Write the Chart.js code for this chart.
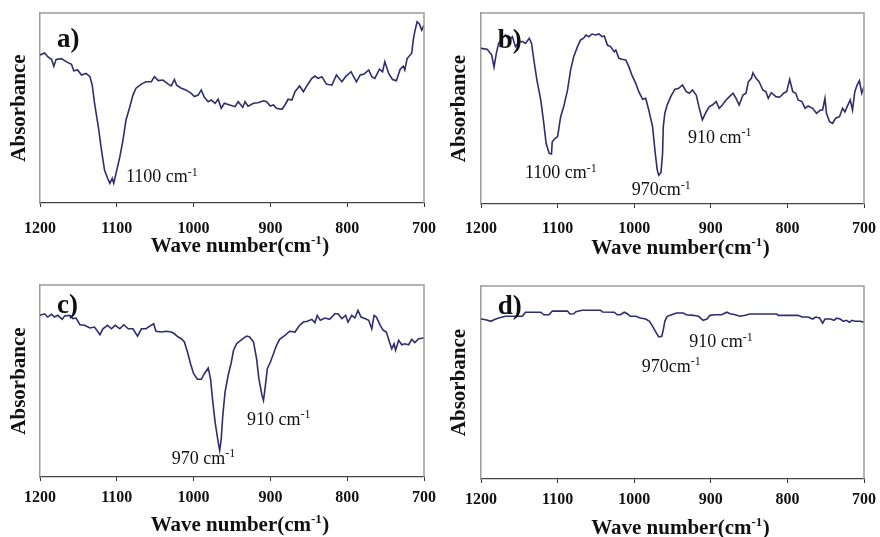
<!DOCTYPE html>
<html>
<head>
<meta charset="utf-8">
<script src="https://cdn.jsdelivr.net/npm/chart.js@4.4.1/dist/chart.umd.min.js"></script>
<style>
  html, body { margin: 0; padding: 0; background: #fff; overflow: hidden; }
  body { width: 880px; height: 537px; position: relative; }
  canvas { position: absolute; }
  #pa { left: 0; top: 0; }
  #pb { left: 440px; top: 0; }
  #pc { left: 0; top: 270px; }
  #pd { left: 440px; top: 270px; }
</style>
</head>
<body>
<canvas id="pa" width="440" height="290"></canvas>
<canvas id="pb" width="440" height="290"></canvas>
<canvas id="pc" width="440" height="290"></canvas>
<canvas id="pd" width="440" height="290"></canvas>
<script>
// x ticks (wave number, cm-1)
const xTicks = [1200, 1100, 1000, 900, 800, 700];

// a) spectrum
const wnA = [1200, 1194, 1190, 1185, 1182, 1179, 1172, 1166, 1159, 1156, 1151, 1146, 1140, 1135, 1132, 1129, 1124, 1120, 1116, 1112,
  1109, 1106, 1104, 1101, 1096, 1092, 1088, 1083, 1079, 1075, 1068, 1062, 1055, 1051, 1046, 1040, 1033, 1029, 1025, 1022,
  1016, 1010, 1003, 999, 994, 990, 986, 981, 977, 972, 968, 964, 960, 953, 946, 942, 936, 933, 929, 922,
  916, 909, 905, 900, 896, 892, 885, 881, 877, 872, 868, 862, 857, 852, 846, 842, 838, 833, 827, 820,
  814, 807, 802, 795, 788, 783, 778, 772, 768, 764, 758, 754, 751, 746, 741, 736, 731, 727, 725, 722,
  716, 714, 712, 709, 706, 703, 700];
const absA = [77.9, 79, 77, 75.6, 72, 75.6, 76, 74.4, 73, 69.6, 70, 67.4, 68.2, 66.5, 62, 52.5, 40, 28, 17.4, 13,
  10.4, 13, 10.4, 15.6, 24.4, 33, 43.7, 50.7, 56.8, 60.4, 62.6, 63.8, 63.8, 66.5, 64.4, 64.7, 62.6, 61.6, 65, 62,
  60.4, 59.5, 57.7, 56, 56.8, 59.5, 55.6, 53.3, 54.2, 52.5, 54.6, 49.8, 52.5, 51.6, 50.7, 53.3, 50.4, 53.3, 51, 52.5,
  52.8, 53.8, 53.3, 51, 51.6, 49.8, 49.3, 51.6, 54.6, 54.2, 58.6, 61.6, 58.6, 62, 65.6, 66.8, 65.6, 66.5, 62.6, 62,
  67.4, 63.8, 66.5, 69.1, 63.8, 67.4, 67.9, 70, 66.5, 65.6, 70.4, 69.1, 74.4, 68.2, 65, 64.4, 70.4, 72, 70, 76,
  78.8, 85.8, 90.2, 95.4, 94.2, 91, 93.7];

// b) spectrum
const wnB = [1200, 1192, 1186, 1183, 1180, 1177, 1172, 1168, 1163, 1159, 1155, 1150, 1146, 1142, 1137, 1134, 1131, 1127, 1122, 1118,
  1115, 1111, 1108, 1107, 1103, 1100, 1096, 1092, 1087, 1083, 1079, 1074, 1070, 1066, 1063, 1059, 1055, 1050, 1046, 1042,
  1039, 1035, 1031, 1026, 1024, 1020, 1016, 1011, 1007, 1003, 998, 994, 989, 985, 981, 976, 973, 970, 968, 965,
  963, 962, 960, 957, 952, 947, 942, 937, 932, 928, 924, 919, 915, 911, 906, 902, 898, 893, 889, 885,
  880, 875, 871, 867, 863, 858, 854, 851, 847, 845, 841, 837, 832, 828, 825, 821, 815, 810, 805, 801,
  797, 793, 789, 786, 781, 777, 773, 767, 762, 757, 754, 751, 749, 745, 741, 737, 732, 728, 725, 722,
  718, 715, 712, 709, 706, 703, 700];
const absB = [81.5, 81, 78, 71.6, 78.9, 84.1, 86.8, 88.5, 85.9, 87.6, 82.4, 85, 85, 84.1, 86.8, 84.1, 75.4, 64.9, 54.5, 42.2,
  31.8, 26.5, 26.2, 32.6, 34.4, 35.3, 45.7, 51, 59.7, 70.2, 77.1, 82.4, 85.9, 86.8, 88.5, 87.6, 89, 88.5, 89, 87.6,
  88, 83.2, 82.4, 79.7, 80.6, 76.3, 75.8, 75.4, 71.9, 67.5, 63.2, 58.8, 54.8, 55.3, 49.2, 40.5, 28.3, 18, 15, 16.5,
  26.5, 40.5, 47.5, 51.8, 56.5, 60, 60.6, 62.3, 58.8, 58, 59.7, 57, 50.1, 44, 48.3, 51, 51.8, 53.6, 50.1, 51.8,
  54.5, 56.5, 58, 55.3, 51.8, 57, 58, 64, 65.8, 68.7, 65.8, 64, 59.7, 58.8, 55.3, 58.3, 56.2, 55.9, 58, 58.8,
  65.3, 58.8, 58, 54.5, 53.6, 50.1, 51.3, 50.1, 47.5, 49.2, 49.2, 55.3, 47.5, 43.1, 42.2, 44.9, 45.7, 50.1, 48.3, 51,
  54.5, 49.2, 58.8, 62.3, 64.6, 58, 61.4];

// c) spectrum
const wnC = [1200, 1194, 1190, 1185, 1181, 1177, 1171, 1168, 1161, 1157, 1153, 1148, 1142, 1135, 1129, 1122, 1118, 1112, 1107, 1102,
  1096, 1091, 1085, 1079, 1073, 1068, 1062, 1057, 1052, 1049, 1042, 1036, 1029, 1025, 1020, 1016, 1012, 1008, 1004, 1000,
  995, 990, 986, 981, 978, 975, 972, 968, 966, 964, 962, 959, 955, 951, 948, 944, 937, 931, 927, 922,
  918, 915, 911, 909, 907, 904, 900, 896, 892, 888, 881, 875, 868, 862, 857, 852, 846, 842, 839, 835,
  829, 823, 816, 812, 807, 802, 799, 794, 790, 786, 782, 777, 772, 768, 765, 762, 757, 753, 749, 745,
  742, 739, 737, 733, 729, 725, 720, 716, 712, 707, 700];
const absC = [84.2, 85, 83.3, 84.7, 83.3, 84.2, 82.1, 83.9, 84.2, 82.5, 82.8, 79.3, 79, 77.6, 78.1, 74.1, 77.2, 79, 77.2, 79,
  77.2, 79.3, 77.2, 77.2, 73.4, 77.2, 77.2, 78.6, 79.8, 75.9, 75.5, 75.9, 75.5, 74.6, 72.9, 72, 70.3, 65.1, 59, 53.8,
  50.9, 50.9, 53.8, 56.8, 51.2, 39.1, 28.6, 18.2, 13.9, 19.9, 32.1, 44.3, 53, 59.5, 66, 69.4, 71.7, 73.4, 72.9, 70.3,
  61.6, 51.2, 42.6, 39.9, 46, 56.4, 59.9, 64.2, 68.6, 71.7, 73.8, 75.9, 75.5, 79, 80.7, 81.1, 82.1, 80.4, 84.2, 81.6,
  82.8, 82.1, 85, 85, 82.5, 84.2, 80.7, 84.2, 82.8, 86.8, 83.3, 82.5, 81.6, 77.2, 84.2, 83.3, 79, 76.4, 75.5, 70.3,
  66.8, 69.4, 66, 71.2, 68.9, 69.4, 68.9, 71.7, 70, 72, 72.4];

// d) spectrum
const wnD = [1200, 1194, 1187, 1183, 1177, 1168, 1146, 1142, 1122, 1118, 1111, 1107, 1087, 1084, 1079, 1076, 1068, 1044, 1041, 1026,
  1022, 1018, 1013, 1009, 1005, 998, 992, 985, 980, 976, 971, 968, 964, 962, 960, 957, 952, 945, 936, 932,
  923, 916, 910, 905, 901, 895, 886, 879, 875, 868, 862, 855, 849, 814, 812, 786, 781, 773, 767, 763,
  758, 754, 751, 744, 739, 736, 731, 727, 723, 719, 716, 712, 705, 700];
const absD = [82.9, 82.5, 81.7, 82.5, 83.4, 84.3, 84.3, 86.4, 86.4, 85.1, 85.1, 87, 87, 85.5, 85.6, 86.7, 87.4, 87.4, 86.5, 86.4,
  85.1, 85.1, 86.4, 85.6, 84.3, 84.3, 83.4, 82.9, 81.7, 79.1, 75.6, 73.6, 73.9, 77.4, 81.7, 84.3, 85, 86, 86, 85.1,
  84.8, 84.3, 82.2, 82.9, 84.8, 85.1, 85.1, 86.4, 85.6, 85.1, 84.3, 84.8, 85.5, 85.5, 84.8, 84.8, 83.9, 83.9, 82.9, 83.9,
  83.4, 80.8, 82.9, 82.9, 82.2, 83.3, 82.9, 81.7, 82.2, 81.2, 82.2, 81.7, 81.7, 81.3];

// peak labels
const notesA = [{ text: '1100 cm', sup: '-1', wn: 1088, v: 11 }];
const notesB = [
  { text: '1100 cm', sup: '-1', wn: 1142.6, v: 13.6 },
  { text: '970cm', sup: '-1', wn: 1003.3, v: 4.7 },
  { text: '910 cm', sup: '-1', wn: 929.8, v: 32.1 }
];
const notesC = [
  { text: '970 cm', sup: '-1', wn: 1028.5, v: 6.8 },
  { text: '910 cm', sup: '-1', wn: 930.5, v: 27.1 }
];
const notesD = [
  { text: '970cm', sup: '-1', wn: 990.2, v: 55.6 },
  { text: '910 cm', sup: '-1', wn: 928, v: 68.2 }
];

const LINE = '#2f2d6e';
const SERIF = '"Liberation Serif", "Times New Roman", serif';

// plot-area boxes inside each 440x290 canvas
const frames = {
  a: { left: 40, top: 13, right: 424, bottom: 203, tickGap: 26, titleGap: 42 },
  b: { left: 41, top: 13, right: 424, bottom: 204, tickGap: 25, titleGap: 43 },
  c: { left: 40, top: 15, right: 424, bottom: 207, tickGap: 21, titleGap: 47 },
  d: { left: 41, top: 16, right: 424, bottom: 209, tickGap: 21, titleGap: 48 }
};

const boxPlugin = {
  id: 'box',
  afterDraw(chart) {
    const { ctx, chartArea: a } = chart;
    ctx.save();
    ctx.strokeStyle = '#9c9c9c';
    ctx.lineWidth = 1.5;
    ctx.beginPath();
    ctx.moveTo(a.left, a.top);
    ctx.lineTo(a.right, a.top);
    ctx.lineTo(a.right, a.bottom);
    ctx.stroke();
    ctx.restore();
  }
};

// text with a "-1" exponent, drawn left to right from x
function supText(ctx, parts, x, y, size, sub, weight) {
  let cx = x;
  parts.forEach(p => {
    ctx.font = weight + ' ' + (p.sup ? sub : size) + 'px ' + SERIF;
    ctx.fillText(p.t, cx, p.sup ? y - size * 0.36 : y);
    cx += ctx.measureText(p.t).width + (p.sup ? 0.5 : 0);
  });
  return cx - x;
}

const notesPlugin = {
  id: 'notes',
  afterDatasetsDraw(chart, args, opts) {
    const { ctx, chartArea: a, scales: { x, y } } = chart;
    ctx.save();
    ctx.fillStyle = '#111';
    ctx.textBaseline = 'alphabetic';
    ctx.textAlign = 'left';
    opts.notes.forEach(n => {
      supText(ctx, [{ t: n.text }, { t: n.sup, sup: true }],
        x.getPixelForValue(n.wn), y.getPixelForValue(n.v), 18, 12, 'normal');
    });
    ctx.font = 'bold 27px ' + SERIF;
    ctx.fillText(opts.tag, x.getPixelForValue(1178), y.getPixelForValue(opts.tagV));

    // x axis title with superscript
    const parts = [{ t: 'Wave number(cm' }, { t: '-1', sup: true }, { t: ')' }];
    ctx.globalAlpha = 0;
    const w = supText(ctx, parts, 0, 0, 21, 13, 'bold');
    ctx.globalAlpha = 1;
    supText(ctx, parts, (a.left + a.right) / 2 + 8 - w / 2, a.bottom + opts.titleGap + 7, 21, 13, 'bold');
    ctx.restore();
  }
};

function makePanel(id, wn, abs, tag, tagV, notes, f) {
  const H = 290, XH = 70;
  return new Chart(document.getElementById(id), {
    type: 'line',
    data: {
      datasets: [{
        data: wn.map((w, i) => ({ x: w, y: abs[i] })),
        borderColor: LINE,
        borderWidth: 1.6,
        pointRadius: 0,
        tension: 0
      }]
    },
    options: {
      responsive: false,
      animation: false,
      events: [],
      layout: { padding: { left: 0, top: f.top, right: 440 - f.right, bottom: H - XH - f.bottom } },
      plugins: {
        legend: { display: false },
        tooltip: { enabled: false },
        notes: { notes, tag, tagV, titleGap: f.titleGap }
      },
      scales: {
        x: {
          type: 'linear',
          min: 700,
          max: 1200,
          reverse: true,
          afterFit: s => { s.height = XH; s.paddingLeft = 0; s.paddingRight = 0; },
          afterBuildTicks: s => { s.ticks = xTicks.slice().sort((p, q) => p - q).map(v => ({ value: v })); },
          grid: { drawOnChartArea: false, drawTicks: true, tickLength: 4, color: '#333' },
          border: { color: '#444', width: 1.2 },
          ticks: {
            maxRotation: 0,
            autoSkip: false,
            padding: f.tickGap - 4 - 9.6,
            color: '#111',
            font: { family: SERIF, size: 16, weight: 'bold' },
            callback: v => String(v)
          },
          title: { display: false }
        },
        y: {
          min: 0,
          max: 100,
          afterFit: s => { s.width = f.left; s.paddingTop = 0; s.paddingBottom = 0; },
          grid: { display: false },
          border: { color: '#9c9c9c', width: 1.5 },
          ticks: { display: false },
          title: {
            display: true,
            text: 'Absorbance',
            color: '#111',
            font: { family: SERIF, size: 21, weight: 'bold' },
            padding: { top: 7, bottom: 0 }
          }
        }
      }
    },
    plugins: [boxPlugin, notesPlugin]
  });
}

makePanel('pa', wnA, absA, 'a)', 82, notesA, frames.a);
makePanel('pb', wnB, absB, 'b)', 81.7, notesB, frames.b);
makePanel('pc', wnC, absC, 'c)', 85.4, notesC, frames.c);
makePanel('pd', wnD, absD, 'd)', 85.5, notesD, frames.d);
</script>
</body>
</html>
